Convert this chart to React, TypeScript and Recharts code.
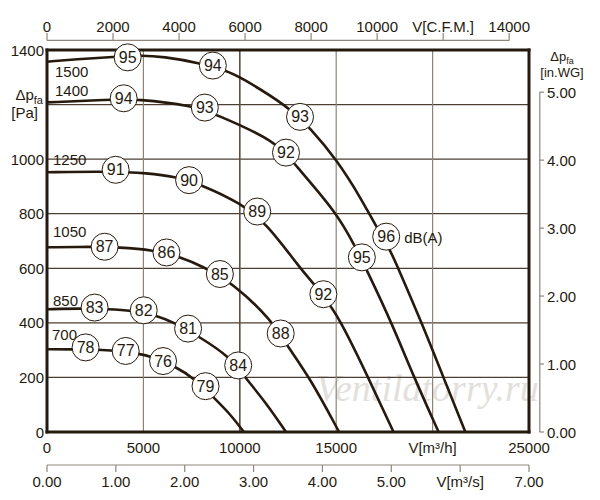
import { ComposedChart, Line, Scatter, XAxis, YAxis, CartesianGrid, ReferenceLine } from "recharts";

// fan curves: [flow m3/h, static pressure Pa]
const curve1500 = [[0, 1357], [1500, 1366], [3508, 1375], [4896, 1381], [6000, 1376], [7926, 1353], [9310, 1323], [10000, 1302], [12515, 1193], [13640, 1114], [15031, 998], [16331, 851], [17022, 759], [17765, 673], [18217, 600], [19449, 398], [20572, 198], [21700, 0]];
const curve1400 = [[0, 1208], [3249, 1218], [4636, 1221], [7578, 1196], [8794, 1163], [11913, 1065], [12775, 986], [15031, 804], [15983, 679], [16590, 593], [17890, 398], [19049, 198], [20312, 0]];
const curve1250 = [[0, 952], [2817, 955], [4200, 952], [4985, 950], [6679, 936], [8015, 906], [10005, 840], [11393, 765], [13124, 600], [13904, 538], [14683, 465], [15291, 398], [16674, 198], [17973, 0]];
const curve1050 = [[0, 677], [2297, 679], [3680, 677], [5535, 667], [6887, 642], [8098, 606], [9657, 545], [11653, 410], [12433, 318], [13644, 198], [15151, 0]];
const curve850 = [[0, 450], [1778, 453], [3160, 450], [4376, 446], [5676, 428], [6627, 400], [7926, 348], [9486, 275], [10265, 201], [11393, 104], [12396, 0]];
const curve700 = [[0, 303], [1258, 303], [2729, 302], [3420, 299], [4808, 287], [5414, 277], [6715, 238], [7666, 195], [8618, 128], [9486, 67], [10213, 0]];

// noise level marks: [flow m3/h, pressure Pa, dB(A)]
const marks1500 = [[4184, 1373, 95], [8602, 1343, 94], [13124, 1155, 93], [17594, 716, 96]];
const marks1400 = [[3976, 1223, 94], [8186, 1189, 93], [12396, 1024, 92], [16331, 640, 95]];
const marks1250 = [[3560, 961, 91], [7370, 923, 90], [10904, 808, 89], [14335, 505, 92]];
const marks1050 = [[2989, 679, 87], [6196, 658, 86], [8966, 579, 85], [12121, 361, 88]];
const marks850 = [[2469, 456, 83], [5016, 446, 82], [7318, 379, 81], [9917, 244, 84]];
const marks700 = [[2001, 310, 78], [4080, 297, 77], [6019, 260, 76], [8222, 168, 79]];

const speeds = ["1500", "1400", "1250", "1050", "850", "700"];
const unitLabel = "dB(A)";

const m3hTicks = [0, 5000, 10000, 15000, 20000, 25000];
const m3sTicks = [0, 1, 2, 3, 4, 5, 6, 7];
const cfmTicks = [0, 2000, 4000, 6000, 8000, 10000, 12000, 14000];
const paTicks = [0, 200, 400, 600, 800, 1000, 1200, 1400];
const wgTicks = [0, 1, 2, 3, 4, 5];
const darkGridFlow = 10000;

const ink = "#261a0e";
const gridDark = "#4b3f33";
const gridGray = "#8c8479";
const axisGray = "#8e867c";
const font = "'Liberation Sans', Arial, sans-serif";

const pts = (a: number[][]) => a.map(([x, y]) => ({ x, y }));
const mk = (a: number[][]) => a.map(([x, y, db]) => ({ x, y, db }));

const curves = [curve1500, curve1400, curve1250, curve1050, curve850, curve700];
const marks = [marks1500, marks1400, marks1250, marks1050, marks850, marks700];
// label offset from the start of each curve
const labelPos = [[8, 15], [8, -6], [6, -7], [6, -10.5], [6, -3], [5, -9]];

// invisible series so the secondary axes get a scale
const cfmSpan = pts([[0, 0], [14600, 0]]);
const msSpan = pts([[0, 0], [7, 0]]);
const wgSpan = pts([[0, 0], [25000, 5]]);
const darkGrid = pts([[darkGridFlow, 0], [darkGridFlow, 1400]]);

const speedDot = (text: string, dx: number, dy: number) => (p: any) =>
  p.index === 0 ? (
    <text key="lbl" x={p.cx + dx} y={p.cy + dy} fill={ink} fontSize={15}>
      {text}
    </text>
  ) : null;

const markShape = (withUnit: boolean, last: number) => (p: any) => (
  <g>
    <circle cx={p.cx} cy={p.cy} r={13.5} fill="#fff" stroke={ink} strokeWidth={1} />
    <text x={p.cx} y={p.cy + 5.5} textAnchor="middle" fill={ink} fontSize={16}>
      {p.payload.db}
    </text>
    {withUnit && p.index === last && (
      <text x={p.cx + 18} y={p.cy + 6.5} fill={ink} fontSize={15}>
        {unitLabel}
      </text>
    )}
  </g>
);

const PaTick = (p: any) => {
  const v = p.payload.value;
  if (v === 1200)
    return (
      <g fill={ink}>
        <text x={p.x - 1} y={p.y - 5} textAnchor="end" fontSize={15}>
          Δp<tspan fontSize={11} dy={4}>fa</tspan>
        </text>
        <text x={p.x - 6} y={p.y + 13} textAnchor="end" fontSize={15}>[Pa]</text>
      </g>
    );
  return (
    <text x={p.x} y={p.y} dy={5.5} textAnchor="end" fill={ink} fontSize={15}>
      {v}
    </text>
  );
};

const WgTick = (p: any) => {
  const v = p.payload.value;
  return (
    <g>
      <line x1={p.x + 10.5} x2={p.x + 15} y1={p.y} y2={p.y} stroke={axisGray} strokeWidth={1.2} />
      <text x={p.x + 18} y={p.y} dy={5.5} fill={ink} fontSize={15}>
        {v.toFixed(2)}
      </text>
      {v === 5 && (
        <g fill={ink} fontSize={13}>
          <text x={p.x + 33} y={p.y - 31} textAnchor="middle">
            Δp<tspan fontSize={9} dy={3}>fa</tspan>
          </text>
          <text x={p.x + 33} y={p.y - 15} textAnchor="middle">[in.WG]</text>
        </g>
      )}
    </g>
  );
};

const CfmTick = (p: any) => {
  const v = p.payload.value;
  return (
    <g>
      <line x1={p.x} x2={p.x} y1={p.y - 9.5} y2={p.y - 17} stroke={axisGray} strokeWidth={1.2} />
      <text x={p.x} y={p.y - 18.5} textAnchor="middle" fill={ink} fontSize={15}>
        {v === 12000 ? "V[C.F.M.]" : v}
      </text>
    </g>
  );
};

export default function App() {
  return (
    <div style={{ position: "absolute", left: 0, top: 0, width: 600, height: 500, fontFamily: font, background: "#fff" }}>
      <div
        style={{
          position: "absolute",
          left: 316,
          top: 366,
          fontFamily: "'Liberation Serif', serif",
          fontStyle: "italic",
          fontSize: 38,
          color: "#e3e0dc",
        }}
      >
        Ventilatorry.ru
      </div>
      <div style={{ position: "absolute", left: 0, top: 0 }}>
        <ComposedChart width={600} height={500} margin={{ top: 0, right: 0, bottom: 5, left: 0 }}>
          <CartesianGrid vertical={false} stroke={gridDark} strokeWidth={1.2} />
          <CartesianGrid horizontal={false} stroke={gridGray} strokeWidth={1.2} />
          <XAxis
            dataKey="x"
            type="number"
            domain={[0, 25000]}
            ticks={m3hTicks}
            height={33}
            axisLine={false}
            tickLine={false}
            tickSize={0}
            tickMargin={10}
            tick={{ fill: ink, fontSize: 15 }}
            tickFormatter={(v) => (v === 20000 ? "V[m³/h]" : String(v))}
          />
          <XAxis
            xAxisId="ms"
            dataKey="x"
            type="number"
            domain={[0, 7]}
            ticks={m3sTicks}
            height={30}
            axisLine={{ stroke: axisGray, strokeWidth: 1.2 }}
            tickLine={{ stroke: axisGray, strokeWidth: 1.2 }}
            tickSize={7}
            tickMargin={4}
            tick={{ fill: ink, fontSize: 15 }}
            tickFormatter={(v) => (v === 6 ? "V[m³/s]" : v.toFixed(2))}
          />
          <XAxis
            xAxisId="cfm"
            dataKey="x"
            orientation="top"
            type="number"
            domain={[0, 14600]}
            ticks={cfmTicks}
            height={50}
            axisLine={false}
            tickLine={false}
            tickSize={0}
            tickMargin={0}
            tick={<CfmTick />}
          />
          <YAxis
            type="number"
            domain={[0, 1400]}
            ticks={paTicks}
            width={47}
            axisLine={false}
            tickLine={false}
            tickSize={0}
            tickMargin={3}
            tick={<PaTick />}
          />
          <YAxis
            yAxisId="wg"
            orientation="right"
            type="number"
            domain={[0, 1400 / 249.089]}
            ticks={wgTicks}
            width={71}
            axisLine={false}
            tickLine={false}
            tickSize={0}
            tickMargin={0}
            tick={<WgTick />}
          />
          <Line xAxisId="cfm" data={cfmSpan} dataKey="y" stroke="none" dot={false} activeDot={false} legendType="none" isAnimationActive={false} />
          <Line xAxisId="ms" data={msSpan} dataKey="y" stroke="none" dot={false} activeDot={false} legendType="none" isAnimationActive={false} />
          <Line yAxisId="wg" data={wgSpan} dataKey="y" stroke="none" dot={false} activeDot={false} legendType="none" isAnimationActive={false} />
          <Line data={darkGrid} dataKey="y" type="linear" stroke={gridDark} strokeWidth={1.2} dot={false} activeDot={false} legendType="none" isAnimationActive={false} />
          <ReferenceLine
            xAxisId="cfm"
            ifOverflow="visible"
            segment={[{ x: 0, y: 1435 }, { x: 14000, y: 1435 }]}
            stroke={axisGray}
            strokeWidth={1.2}
          />
          <ReferenceLine
            yAxisId="wg"
            ifOverflow="visible"
            segment={[{ x: 25560, y: 0 }, { x: 25560, y: 5 }]}
            stroke={axisGray}
            strokeWidth={1.2}
          />
          <ReferenceLine x={0} ifOverflow="visible" stroke={ink} strokeWidth={3} strokeLinecap="square" />
          <ReferenceLine x={25000} ifOverflow="visible" stroke={ink} strokeWidth={3} strokeLinecap="square" />
          <ReferenceLine y={0} ifOverflow="visible" stroke={ink} strokeWidth={3} strokeLinecap="square" />
          <ReferenceLine y={1400} ifOverflow="visible" stroke={ink} strokeWidth={3} strokeLinecap="square" />
          {curves.map((c, i) => (
            <Line
              key={speeds[i]}
              data={pts(c)}
              dataKey="y"
              type="basis"
              stroke={ink}
              strokeWidth={2.6}
              dot={speedDot(speeds[i], labelPos[i][0], labelPos[i][1])}
              activeDot={false}
              isAnimationActive={false}
            />
          ))}
          {marks.map((m, i) => (
            <Scatter
              key={"m" + speeds[i]}
              data={mk(m)}
              dataKey="y"
              shape={markShape(i === 0, m.length - 1)}
              isAnimationActive={false}
            />
          ))}
        </ComposedChart>
      </div>
    </div>
  );
}
